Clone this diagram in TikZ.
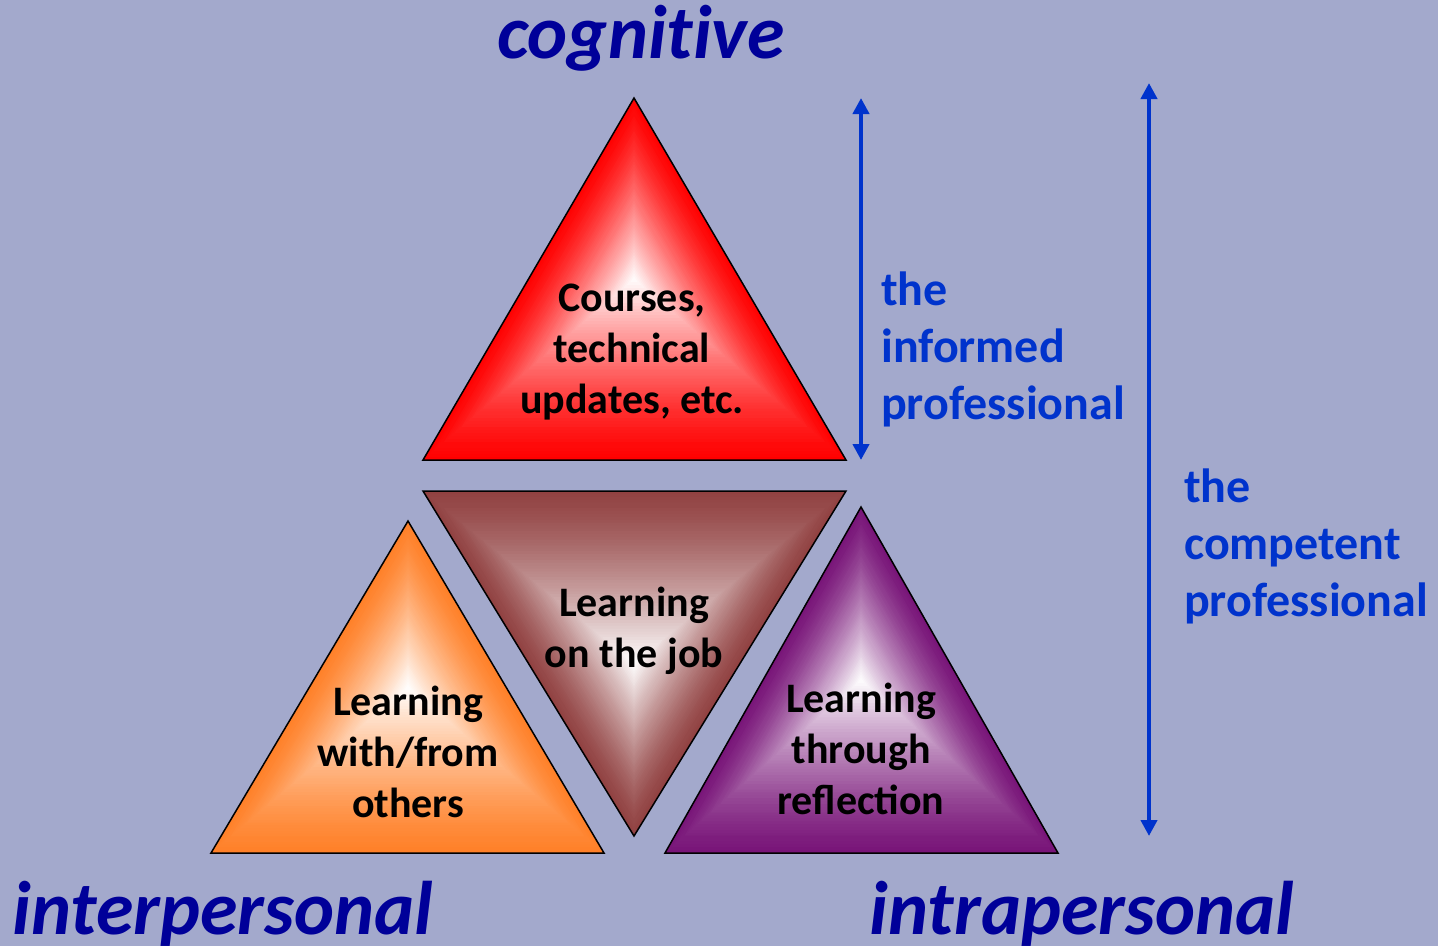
\documentclass[tikz,border=0pt]{standalone}
\usepackage{fontspec}
\setmainfont{Carlito}
\newfontfamily\cornerfont[Ligatures=NoCommon]{Carlito}
\usetikzlibrary{calc,arrows.meta}
\definecolor{bg}{RGB}{163,169,204}
\definecolor{navy}{RGB}{0,0,153}
\definecolor{lblue}{RGB}{0,51,204}
\definecolor{tred}{RGB}{255,0,0}
\definecolor{tbrown}{RGB}{145,65,65}
\definecolor{torange}{RGB}{255,128,40}
\definecolor{tpurple}{RGB}{120,20,120}
\newcommand\gradtri[5]{%
  \foreach \i in {0,...,60}{%
    \pgfmathsetmacro\s{1-\i/60}%
    \pgfmathtruncatemacro\c{100*(1-(\i/60)^1.3)}%
    \fill[#1!\c!white] ($(#5)!\s!(#2)$) -- ($(#5)!\s!(#3)$) -- ($(#5)!\s!(#4)$) -- cycle;
  }%
  \draw[tri edge] (#2) -- (#3) -- (#4) -- cycle;
}
\begin{document}
\begin{tikzpicture}[x=1pt,y=-1pt,
  tri edge/.style={draw=black,line width=1.5pt,line join=miter},
  tritext/.style={font=\bfseries\fontsize{42}{51}\selectfont,align=center,text=black,inner sep=0pt},
  sidetext/.style={font=\bfseries\fontsize{48}{57}\selectfont,align=left,text=lblue,inner sep=0pt,anchor=west},
  corner/.style={font=\cornerfont\bfseries\itshape\fontsize{76}{84}\selectfont,text=navy,inner sep=0pt},
  span/.style={draw=lblue,line width=4pt,{Triangle[width=16pt,length=16pt]}-{Triangle[width=16pt,length=16pt]}}]
\fill[bg] (0,0) rectangle (1438,946);
\useasboundingbox (0,0) rectangle (1438,946);

% vertices
\coordinate (rA) at (634,98);  \coordinate (rB) at (423,460); \coordinate (rC) at (846,460); \coordinate (rP) at (634,279);
\coordinate (bA) at (423,491); \coordinate (bB) at (846,491); \coordinate (bC) at (634,836); \coordinate (bP) at (634,663);
\coordinate (oA) at (408,521); \coordinate (oB) at (211,853); \coordinate (oC) at (604,853); \coordinate (oP) at (408,687);
\coordinate (pA) at (861,507); \coordinate (pB) at (665,853); \coordinate (pC) at (1058,853); \coordinate (pP) at (861,680);

\gradtri{tred}{rA}{rB}{rC}{rP}
\gradtri{tbrown}{bA}{bB}{bC}{bP}
\gradtri{torange}{oA}{oB}{oC}{oP}
\gradtri{tpurple}{pA}{pB}{pC}{pP}

\node[tritext] (courses) at (632,352) {Courses,\\technical\\updates, etc.};
\node[tritext] (job) at (634,631) {Learning\\on the job};
\node[tritext] (others) at (408,752) {Learning\\with/from\\others};
\node[tritext] (refl) at (861,749) {Learning\\through\\reflection};

\node[corner] (cog) at (641,38) {cogni\kern0pt t\kern0pt ive};
\node[corner] (inter) at (223,914) {interpersonal};
\node[corner] (intra) at (1082,914) {intrapersonal};

\coordinate (i1) at (861,98);  \coordinate (i2) at (861,460);
\coordinate (c1) at (1149,83); \coordinate (c2) at (1149,836);
\draw[span] (i1) -- (i2);
\draw[span] (c1) -- (c2);

\node[sidetext] (informed) at (881,349) {the\\informed\\professional};
\node[sidetext] (competent) at (1184,546) {the\\competent\\professional};
\end{tikzpicture}
\end{document}
